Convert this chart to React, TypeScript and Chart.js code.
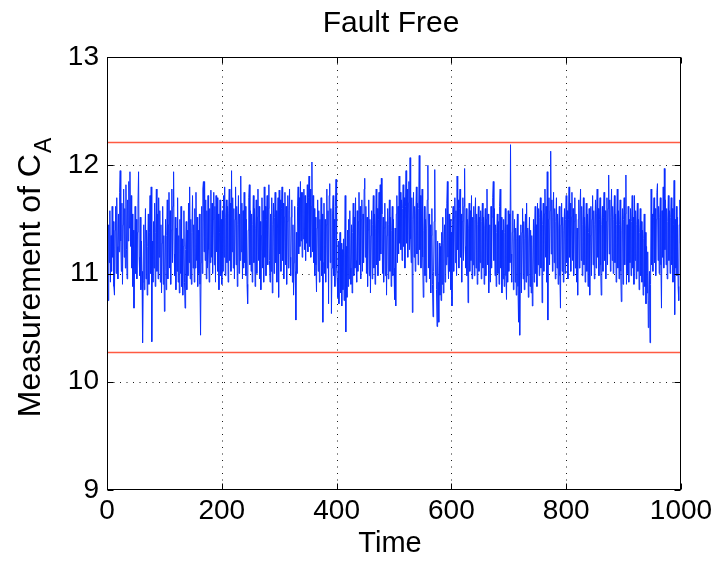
import React, { useEffect, useRef } from "react";
import { Chart, registerables } from "chart.js";

Chart.register(...registerables);

const TITLE = "Fault Free";
const X_LABEL = "Time";
const Y_LABEL_MAIN = "Measurement of C";
const Y_LABEL_SUB = "A";

const xTicks = [0, 200, 400, 600, 800, 1000];
const yTicks = [9, 10, 11, 12, 13];

const upperLimit = 12.21;
const lowerLimit = 10.27;

const measurement = [
  11.05, 10.75, 11.45, 11.10, 11.58, 10.92, 11.35, 11.02, 11.62, 11.15,
  11.48, 10.88, 10.80, 11.40, 11.62, 11.00, 11.70, 11.25, 10.95, 11.55,
  11.20, 11.75, 11.95, 11.30, 11.02, 11.65, 10.90, 11.45, 11.78, 11.15,
  11.60, 11.05, 11.82, 11.22, 10.95, 11.68, 11.30, 11.85, 11.42, 11.94,
  11.25, 11.72, 11.05, 11.55, 10.88, 11.40, 10.68, 11.18, 11.62, 11.00,
  11.50, 10.95, 11.38, 11.65, 11.94, 11.15, 10.98, 11.52, 10.85, 11.30,
  11.02, 10.36, 10.92, 11.45, 10.85, 11.28, 11.60, 10.95, 11.40, 10.80,
  11.25, 11.55, 10.90, 11.38, 11.72, 11.00, 11.80, 10.37, 11.30, 10.92,
  11.48, 11.05, 11.65, 10.88, 11.38, 11.78, 11.02, 11.55, 10.95, 11.70,
  11.15, 11.58, 10.92, 11.45, 10.82, 11.28, 11.62, 10.90, 11.35, 10.65,
  11.02, 11.50, 10.85, 11.35, 11.68, 10.95, 11.45, 11.75, 11.05, 11.58,
  10.90, 11.40, 11.78, 11.10, 11.62, 11.94, 11.18, 10.98, 11.52, 10.85,
  11.42, 11.02, 11.70, 10.92, 11.35, 10.82, 11.50, 11.00, 11.62, 10.88,
  11.32, 10.80, 11.25, 11.58, 10.92, 10.68, 11.22, 11.48, 10.85, 11.40,
  10.98, 11.65, 11.10, 11.80, 10.95, 11.50, 10.90, 11.38, 11.72, 11.05,
  11.45, 10.92, 11.60, 11.05, 11.75, 11.12, 11.52, 10.88, 11.40, 11.00,
  11.55, 10.90, 10.43, 11.10, 11.62, 11.00, 11.78, 11.85, 11.20, 11.85,
  11.12, 11.68, 10.95, 11.58, 11.05, 11.72, 11.22, 10.92, 11.60, 11.10,
  11.77, 11.15, 11.65, 11.00, 11.50, 11.75, 11.08, 11.62, 10.92, 11.72,
  11.20, 11.70, 11.02, 11.55, 10.85, 11.38, 11.68, 10.98, 11.50, 10.90,
  11.58, 11.02, 11.72, 11.15, 11.80, 10.98, 11.52, 11.68, 11.10, 11.62,
  10.92, 11.55, 11.78, 11.12, 11.65, 11.02, 11.95, 11.20, 11.70, 11.05,
  11.60, 10.95, 11.50, 11.80, 11.08, 11.62, 10.88, 11.45, 11.72, 11.00,
  11.55, 11.12, 11.90, 11.20, 11.65, 10.95, 11.58, 11.05, 11.75, 11.10,
  11.62, 10.98, 11.50, 10.90, 10.72, 11.40, 11.70, 11.82, 11.08, 11.58,
  11.02, 11.55, 10.92, 11.45, 11.72, 11.10, 11.60, 10.88, 11.42, 11.68,
  11.00, 11.52, 11.78, 11.12, 11.62, 10.95, 11.48, 10.85, 11.35, 11.70,
  11.05, 11.58, 10.92, 11.80, 11.15, 11.62, 10.98, 11.50, 11.72, 11.08,
  11.60, 11.82, 11.12, 10.92, 11.55, 11.02, 11.70, 10.82, 11.45, 11.65,
  11.00, 11.52, 11.75, 11.10, 11.58, 10.92, 11.42, 11.70, 10.78, 11.77,
  11.18, 11.68, 11.02, 11.60, 11.80, 11.12, 11.65, 10.95, 11.52, 11.75,
  11.08, 11.62, 10.90, 11.48, 11.72, 11.05, 11.58, 11.78, 11.15, 10.98,
  11.52, 11.68, 10.92, 11.45, 10.80, 11.10, 11.62, 11.02, 10.57, 11.38,
  11.00, 11.62, 11.80, 11.18, 11.70, 11.25, 11.85, 11.30, 11.75, 11.15,
  11.75, 11.32, 11.78, 11.22, 11.72, 11.12, 11.65, 11.28, 11.82, 11.20,
  11.70, 11.90, 11.25, 11.78, 11.15, 11.62, 12.03, 11.20, 11.72, 11.10,
  11.60, 10.98, 11.52, 11.08, 10.83, 11.42, 11.68, 11.02, 11.58, 10.92,
  11.50, 11.12, 11.70, 10.98, 11.55, 10.55, 11.10, 11.65, 11.00, 11.50,
  10.92, 11.45, 11.78, 11.05, 11.58, 10.72, 11.72, 11.83, 11.10, 11.60,
  10.63, 11.05, 11.55, 11.72, 10.98, 11.50, 10.88, 11.62, 11.87, 11.05,
  10.95, 10.78, 11.30, 10.72, 11.20, 11.38, 10.82, 11.28, 10.70, 11.22,
  10.85, 11.32, 10.75, 11.18, 11.72, 10.46, 11.25, 10.78, 11.40, 10.88,
  11.50, 10.95, 11.58, 11.05, 10.90, 11.45, 10.82, 11.38, 11.65, 10.98,
  11.52, 11.05, 11.70, 11.12, 10.92, 11.58, 11.02, 11.48, 11.75, 11.08,
  11.62, 10.95, 11.50, 11.68, 11.02, 11.55, 11.10, 11.78, 11.88, 11.15,
  11.62, 11.00, 11.52, 10.88, 11.40, 11.68, 10.98, 11.50, 10.82, 11.35,
  11.58, 10.95, 11.45, 11.72, 11.05, 11.55, 10.90, 11.42, 11.78, 11.08,
  11.60, 10.98, 11.50, 11.75, 11.12, 11.82, 11.18, 11.88, 11.55, 11.00,
  11.52, 10.92, 11.42, 11.65, 10.98, 11.48, 10.80, 11.35, 11.60, 10.95,
  11.45, 11.68, 11.02, 11.52, 10.88, 11.40, 11.62, 10.98, 11.50, 11.05,
  10.76, 11.42, 10.70, 11.55, 11.72, 11.10, 11.62, 11.18, 11.90, 11.28,
  11.75, 11.22, 11.68, 11.12, 11.60, 11.82, 11.25, 11.70, 11.05, 11.62,
  11.95, 11.28, 11.78, 11.15, 11.65, 11.85, 11.22, 12.07, 11.32, 11.10,
  11.70, 10.64, 11.50, 11.75, 11.15, 11.62, 11.02, 11.55, 11.80, 11.18,
  11.65, 11.08, 11.60, 12.09, 11.22, 11.72, 11.05, 11.55, 11.78, 11.15,
  10.78, 11.40, 11.62, 10.98, 11.50, 10.92, 11.42, 11.68, 12.00, 11.05,
  11.55, 10.95, 11.45, 10.82, 11.35, 11.60, 10.90, 10.60, 11.02, 11.48,
  11.96, 10.98, 11.40, 10.85, 10.51, 11.30, 10.92, 10.55, 11.28, 10.80,
  11.25, 10.75, 11.38, 10.90, 11.52, 10.82, 11.28, 11.45, 10.92, 11.60,
  11.08, 11.65, 11.85, 11.15, 10.95, 11.55, 11.02, 11.50, 10.85, 11.38,
  10.70, 11.45, 11.62, 11.02, 11.52, 11.70, 11.10, 11.58, 10.98, 11.90,
  11.22, 11.68, 11.05, 11.60, 11.78, 11.15, 11.55, 10.92, 11.48, 11.70,
  11.12, 11.62, 11.97, 11.25, 11.05, 11.60, 10.98, 11.50, 10.73, 11.42,
  11.65, 11.02, 11.58, 11.12, 11.72, 10.95, 11.52, 11.08, 11.62, 10.98,
  11.50, 11.70, 11.05, 11.55, 10.90, 11.45, 11.62, 11.02, 11.52, 11.10,
  11.58, 10.95, 11.48, 11.65, 11.05, 11.52, 10.90, 11.42, 11.60, 10.98,
  11.50, 11.78, 11.08, 11.55, 10.82, 11.02, 11.45, 10.92, 11.62, 11.05,
  11.52, 11.70, 11.85, 11.12, 11.60, 10.98, 11.45, 10.88, 11.38, 11.55,
  11.00, 11.48, 10.90, 11.62, 11.78, 11.05, 11.52, 10.82, 11.40, 10.95,
  11.50, 10.88, 11.38, 11.60, 10.98, 10.76, 11.45, 10.92, 11.58, 11.02,
  11.55, 11.10, 12.19, 11.18, 10.92, 11.38, 11.58, 10.85, 11.30, 11.50,
  10.92, 11.42, 10.80, 11.32, 11.55, 10.88, 10.55, 11.35, 10.43, 11.00,
  11.45, 10.82, 11.38, 11.60, 10.95, 11.48, 10.85, 11.32, 11.55, 10.92,
  11.65, 10.98, 11.42, 10.78, 11.30, 11.52, 10.88, 11.40, 10.82, 11.35,
  10.70, 10.98, 11.50, 10.92, 11.42, 11.62, 11.00, 11.45, 10.88, 11.65,
  11.08, 11.60, 10.98, 11.52, 11.70, 11.05, 11.58, 10.73, 11.45, 11.65,
  11.02, 11.55, 11.78, 11.15, 11.62, 10.92, 11.94, 10.57, 11.50, 11.70,
  11.08, 11.58, 12.13, 11.18, 11.68, 11.02, 11.52, 11.75, 11.10, 11.60,
  10.95, 11.48, 11.70, 11.05, 11.55, 10.90, 11.42, 11.62, 10.98, 10.68,
  11.45, 11.65, 11.02, 11.52, 10.92, 11.40, 11.60, 11.00, 11.50, 11.72,
  11.10, 11.58, 10.95, 11.50, 11.80, 11.15, 11.65, 11.02, 11.52, 11.75,
  11.12, 11.60, 10.98, 11.48, 11.70, 11.05, 11.55, 10.92, 11.42, 10.80,
  11.50, 11.68, 11.05, 11.58, 11.78, 11.12, 11.62, 10.98, 11.45, 11.70,
  11.08, 11.52, 10.92, 11.42, 11.65, 11.02, 11.55, 10.88, 11.38, 11.60,
  10.80, 11.35, 11.62, 10.98, 11.50, 11.72, 11.08, 11.58, 10.95, 11.45,
  11.68, 11.05, 11.55, 11.78, 11.15, 11.60, 10.98, 11.50, 11.70, 11.08,
  10.80, 11.45, 11.62, 11.02, 11.52, 11.75, 11.12, 11.58, 10.95, 11.48,
  11.70, 11.08, 11.60, 11.91, 11.18, 11.68, 11.02, 11.52, 11.78, 11.12,
  11.62, 11.00, 11.50, 11.72, 11.10, 11.55, 10.92, 11.45, 11.78, 11.05,
  11.58, 10.95, 11.45, 11.68, 11.02, 10.74, 11.40, 11.60, 10.90, 11.50,
  11.70, 11.08, 11.55, 11.91, 10.90, 11.45, 11.00, 11.62, 10.92, 11.50,
  11.10, 11.60, 10.98, 11.48, 11.72, 11.05, 11.52, 10.90, 11.72, 11.12,
  11.58, 10.95, 11.45, 11.65, 11.02, 11.50, 10.85, 11.38, 11.60, 10.98,
  11.48, 10.92, 11.40, 10.80, 11.32, 11.55, 10.88, 11.38, 10.72, 11.25,
  10.82, 11.20, 10.50, 10.75, 11.02, 10.36, 10.90, 11.78, 11.08, 11.55,
  11.02, 11.52, 11.70, 11.10, 11.60, 10.98, 11.50, 11.75, 11.83, 11.12,
  11.62, 11.00, 11.52, 11.70, 11.08, 10.68, 11.58, 11.15, 11.80, 11.05,
  11.97, 11.22, 11.68, 11.08, 11.60, 10.95, 11.48, 11.72, 11.12, 11.58,
  11.00, 11.52, 11.70, 11.08, 11.60, 10.92, 11.45, 11.86, 10.62, 11.50,
  11.05, 11.62, 10.98, 11.52, 10.88, 10.75, 11.45, 11.68, 11.28, 11.70,
];

const FONT = "'Liberation Sans', Arial, Helvetica, sans-serif";

const matlabAxesPlugin = {
  id: "matlabAxes",
  beforeDatasetsDraw(chart: any) {
    const { ctx, chartArea } = chart;
    const xs = chart.scales.x;
    const ys = chart.scales.y;
    ctx.save();
    ctx.strokeStyle = "#1a1a1a";
    ctx.lineWidth = 1;
    ctx.setLineDash([1, 5.5]);
    xTicks.forEach((v) => {
      if (v === xTicks[0] || v === xTicks[xTicks.length - 1]) return;
      const px = Math.round(xs.getPixelForValue(v)) + 0.5;
      ctx.beginPath();
      ctx.moveTo(px, chartArea.top);
      ctx.lineTo(px, chartArea.bottom);
      ctx.stroke();
    });
    yTicks.forEach((v) => {
      if (v === yTicks[0] || v === yTicks[yTicks.length - 1]) return;
      const py = Math.round(ys.getPixelForValue(v)) + 0.5;
      ctx.beginPath();
      ctx.moveTo(chartArea.left, py);
      ctx.lineTo(chartArea.right, py);
      ctx.stroke();
    });
    ctx.restore();
  },
  afterDatasetsDraw(chart: any) {
    const { ctx, chartArea } = chart;
    const xs = chart.scales.x;
    const ys = chart.scales.y;
    const l = Math.round(chartArea.left) + 0.5;
    const r = Math.round(chartArea.right) - 0.5;
    const t = Math.round(chartArea.top) + 0.5;
    const b = Math.round(chartArea.bottom) - 0.5;
    ctx.save();
    ctx.strokeStyle = "#000";
    ctx.lineWidth = 1;
    ctx.setLineDash([]);
    ctx.strokeRect(l, t, r - l, b - t);
    const tl = 6;
    ctx.beginPath();
    xTicks.forEach((v) => {
      const px = Math.round(xs.getPixelForValue(v)) + 0.5;
      ctx.moveTo(px, b);
      ctx.lineTo(px, b - tl);
      ctx.moveTo(px, t);
      ctx.lineTo(px, t + tl);
    });
    yTicks.forEach((v) => {
      const py = Math.round(ys.getPixelForValue(v)) + 0.5;
      ctx.moveTo(l, py);
      ctx.lineTo(l + tl, py);
      ctx.moveTo(r, py);
      ctx.lineTo(r - tl, py);
    });
    ctx.stroke();

    // Title
    ctx.fillStyle = "#000";
    ctx.textAlign = "center";
    ctx.textBaseline = "alphabetic";
    ctx.font = `30px ${FONT}`;
    ctx.fillText(TITLE, 391, 32);

    // X axis label
    ctx.font = `29px ${FONT}`;
    ctx.fillText(X_LABEL, 390, 552);

    // Y axis label with subscript
    ctx.translate(39.5, 278);
    ctx.rotate(-Math.PI / 2);
    ctx.textAlign = "left";
    ctx.font = `32px ${FONT}`;
    const wMain = ctx.measureText(Y_LABEL_MAIN).width;
    ctx.font = `23px ${FONT}`;
    const wSub = ctx.measureText(Y_LABEL_SUB).width;
    const start = -(wMain + wSub) / 2;
    ctx.font = `32px ${FONT}`;
    ctx.fillText(Y_LABEL_MAIN, start, 0);
    ctx.font = `23px ${FONT}`;
    ctx.fillText(Y_LABEL_SUB, start + wMain + 1, 11);
    ctx.restore();
  },
};

export default function App() {
  const canvasRef = useRef<HTMLCanvasElement | null>(null);

  useEffect(() => {
    const canvas = canvasRef.current;
    if (!canvas) return;
    const seriesData = measurement.map((v, i) => ({ x: i + 1, y: v }));
    const chart = new Chart(canvas, {
      type: "line",
      data: {
        datasets: [
          {
            label: "Upper limit",
            data: [
              { x: xTicks[0], y: upperLimit },
              { x: xTicks[xTicks.length - 1], y: upperLimit },
            ],
            borderColor: "#ff5a42",
            borderWidth: 1.5,
            pointRadius: 0,
          },
          {
            label: "Lower limit",
            data: [
              { x: xTicks[0], y: lowerLimit },
              { x: xTicks[xTicks.length - 1], y: lowerLimit },
            ],
            borderColor: "#ff5a42",
            borderWidth: 1.5,
            pointRadius: 0,
          },
          {
            label: "Measurement",
            data: seriesData,
            borderColor: "#0a2eff",
            borderWidth: 1,
            pointRadius: 0,
            tension: 0,
          },
        ],
      },
      options: {
        responsive: false,
        animation: false,
        events: [],
        layout: { padding: { left: 0, top: 57, right: 39, bottom: 0 } },
        plugins: {
          legend: { display: false },
          title: { display: false },
          tooltip: { enabled: false },
        },
        scales: {
          x: {
            type: "linear",
            min: 0,
            max: 1000,
            afterFit: (scale: any) => {
              scale.height = 73;
            },
            afterBuildTicks: (scale: any) => {
              scale.ticks = xTicks.map((v) => ({ value: v }));
            },
            grid: { display: false, drawTicks: false },
            border: { display: false },
            ticks: {
              autoSkip: false,
              maxRotation: 0,
              padding: 4,
              color: "#000",
              font: { family: FONT, size: 28 },
              callback: (v: any) => String(v),
            },
          },
          y: {
            type: "linear",
            min: 9,
            max: 13,
            afterFit: (scale: any) => {
              scale.width = 107;
            },
            afterBuildTicks: (scale: any) => {
              scale.ticks = yTicks.map((v) => ({ value: v }));
            },
            grid: { display: false, drawTicks: false },
            border: { display: false },
            ticks: {
              autoSkip: false,
              padding: 8,
              color: "#000",
              font: { family: FONT, size: 28 },
              callback: (v: any) => String(v),
            },
          },
        },
      },
      plugins: [matlabAxesPlugin],
    });
    return () => chart.destroy();
  }, []);

  return (
    <div style={{ position: "fixed", left: 0, top: 0, width: 720, height: 563, background: "#fff" }}>
      <canvas ref={canvasRef} width={720} height={563} />
    </div>
  );
}
